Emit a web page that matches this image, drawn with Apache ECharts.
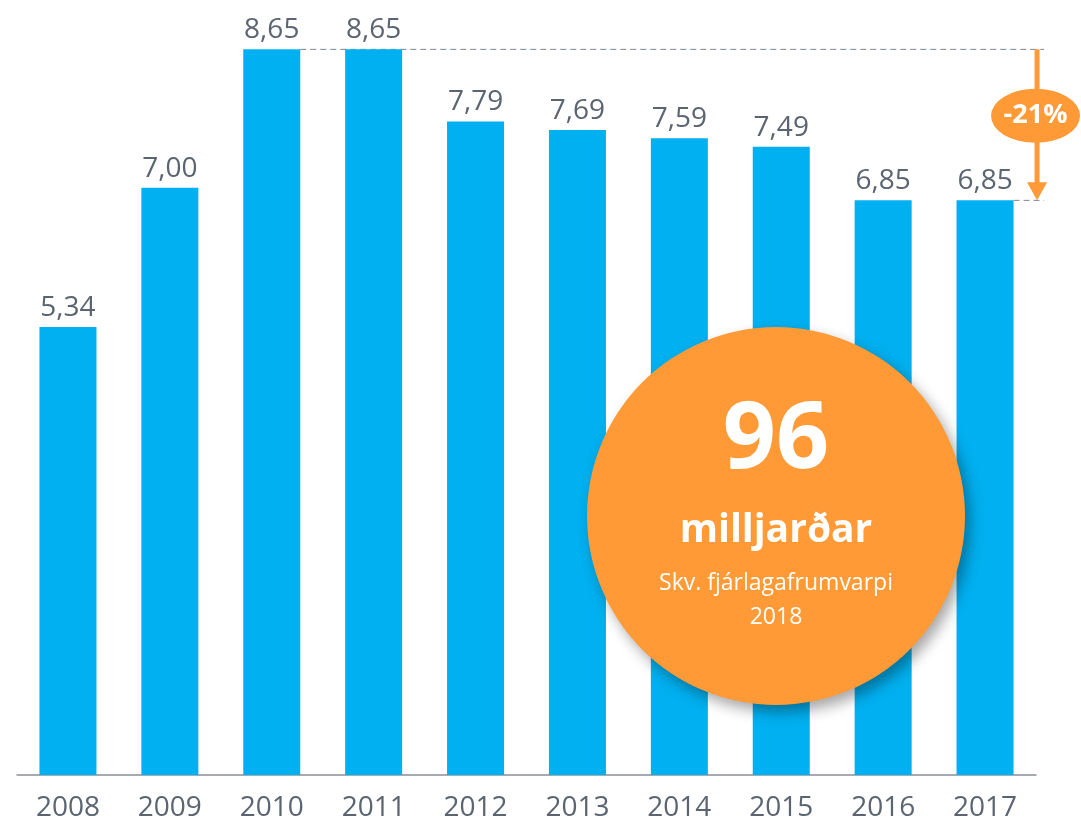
<!DOCTYPE html>
<html>
<head>
<meta charset="utf-8">
<script src="https://cdn.jsdelivr.net/npm/echarts@6/dist/echarts.min.js"></script>
<style>html,body{margin:0;padding:0;background:#fff}#c{width:1081px;height:822px}</style>
</head>
<body>
<div id="c"></div>
<script>
const years = ['2008','2009','2010','2011','2012','2013','2014','2015','2016','2017'];
const values = [5.34, 7.00, 8.65, 8.65, 7.79, 7.69, 7.59, 7.49, 6.85, 6.85];
const changeLabel = '-21%';
const bigNumber = '96';
const bigUnit = 'milljarðar';
const noteLines = ['Skv. fjárlagafrumvarpi', '2018'];

const FONT = '"Open Sans", "Noto Sans", sans-serif';
const BLUE = '#00B0F0';
const ORANGE = '#FF9A36';
const GRAY = '#5B6571';
const BAR_W = 57;

const chart = echarts.init(document.getElementById('c'), null, {renderer: 'canvas'});
chart.setOption({
  animation: false,
  grid: {left: 17, right: 45, top: 20, bottom: 46},
  xAxis: {
    type: 'category',
    data: years,
    axisLine: {lineStyle: {color: '#8a8f96', width: 1.5}},
    axisTick: {show: false},
    axisLabel: {fontFamily: FONT, fontSize: 28, color: GRAY, margin: 19}
  },
  yAxis: {type: 'value', min: 0, max: 9, show: false, splitLine: {show: false}},
  series: [{
    type: 'bar',
    data: values,
    barWidth: BAR_W,
    z: 3,
    itemStyle: {color: BLUE},
    label: {
      show: true, position: 'top', distance: 5,
      fontFamily: FONT, fontSize: 28, color: GRAY,
      formatter: p => p.value.toFixed(2).replace('.', ',')
    }
  }]
});

function drawOverlay() {
  const maxV = Math.max(...values);
  const lastV = values[values.length - 1];
  const maxIdx = values.indexOf(maxV);
  const lastIdx = values.length - 1;
  const pMax = chart.convertToPixel({gridIndex: 0}, [maxIdx, maxV]);
  const pLast = chart.convertToPixel({gridIndex: 0}, [lastIdx, lastV]);
  const rightEdge = chart.convertToPixel({gridIndex: 0}, [lastIdx, 0])[0] + 51;
  const ax = rightEdge + 1;
  const dashEnd = rightEdge + 8;
  const yTop = pMax[1], yBot = pLast[1];
  const yMid = yTop + (yBot - yTop) * 0.44;
  const cx = 776, cy = 516, r = 189;

  chart.setOption({
    graphic: [
      {type: 'line', z: 1, shape: {x1: pMax[0] + BAR_W / 2, y1: yTop, x2: dashEnd, y2: yTop},
       style: {stroke: '#7f8690', lineWidth: 1, lineDash: [6, 4]}},
      {type: 'line', z: 1, shape: {x1: pLast[0] + BAR_W / 2, y1: yBot, x2: dashEnd, y2: yBot},
       style: {stroke: '#7f8690', lineWidth: 1, lineDash: [6, 4]}},
      {type: 'line', z: 10, shape: {x1: ax, y1: yTop, x2: ax, y2: yBot - 15},
       style: {stroke: ORANGE, lineWidth: 5}},
      {type: 'polygon', z: 10, shape: {points: [[ax - 10, yBot - 18], [ax + 10, yBot - 18], [ax, yBot]]},
       style: {fill: ORANGE}},
      {type: 'circle', z: 11, x: ax - 1.5, y: yMid, scaleX: 44.5 / 27, shape: {cx: 0, cy: 0, r: 27},
       style: {fill: ORANGE}},
      {type: 'text', z: 12, x: ax - 1.5, y: yMid,
       style: {text: changeLabel, fill: '#fff', font: 'bold 27px ' + FONT, align: 'center', verticalAlign: 'middle'}},
      {type: 'circle', z: 20, shape: {cx: cx, cy: cy, r: r},
       style: {fill: ORANGE, shadowBlur: 14, shadowOffsetX: 5, shadowOffsetY: 7, shadowColor: 'rgba(0,0,0,0.35)'}},
      {type: 'text', z: 21, x: cx, y: cy - 75,
       style: {text: bigNumber, fill: '#fff', font: 'bold 93px ' + FONT, align: 'center', verticalAlign: 'middle'}},
      {type: 'text', z: 21, x: cx, y: cy + 15,
       style: {text: bigUnit, fill: '#fff', font: 'bold 39px ' + FONT, align: 'center', verticalAlign: 'middle'}},
      {type: 'text', z: 21, x: cx, y: cy + 67,
       style: {text: noteLines[0], fill: '#fff', font: '23px ' + FONT, align: 'center', verticalAlign: 'middle'}},
      {type: 'text', z: 21, x: cx, y: cy + 101,
       style: {text: noteLines[1], fill: '#fff', font: '23px ' + FONT, align: 'center', verticalAlign: 'middle'}}
    ]
  });
}
drawOverlay();
</script>
</body>
</html>
